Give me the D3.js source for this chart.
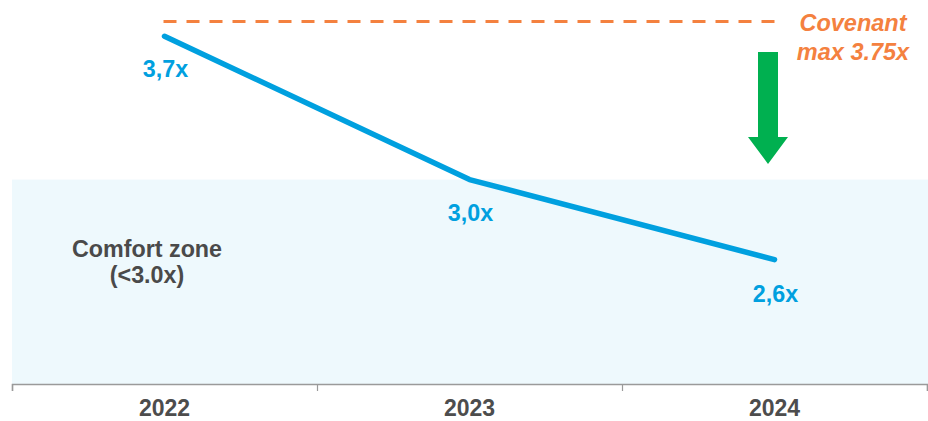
<!DOCTYPE html>
<html>
<head>
<meta charset="utf-8">
<script src="https://cdn.jsdelivr.net/npm/d3@7"></script>
<style>
  html, body { margin: 0; padding: 0; background: #fff; }
  svg { display: block; font-family: "Liberation Sans", Arial, sans-serif; }
</style>
</head>
<body>
<svg id="chart" width="928" height="421"></svg>
<script>
// ---- data ----
const years = ["2022", "2023", "2024"];
const leverage = [3.68, 3.0, 2.62];
const valueLabels = ["3,7x", "3,0x", "2,6x"];
const covenantMax = 3.75;
const comfortMax = 3.0;
const covenantLabel = ["Covenant", "max 3.75x"];
const comfortLabel = ["Comfort zone", "(<3.0x)"];
const arrowRange = [3.605, 3.074];

// ---- layout ----
const svg = d3.select("#chart");
const left = 12, right = 927, axisY = 384;

const x = d3.scaleBand().domain(years).range([left, right]).padding(0);
const y = d3.scaleLinear().domain([2.03, covenantMax]).range([axisY, 21.5]);
const cx = d => x(d) + x.bandwidth() / 2;

// comfort zone band
svg.append("rect")
  .attr("x", left).attr("width", 928 - left)
  .attr("y", y(comfortMax)).attr("height", axisY - y(comfortMax))
  .attr("fill", "#EEF9FD");

// comfort zone text
svg.append("text")
  .attr("text-anchor", "middle")
  .attr("font-size", 23.3).attr("font-weight", "bold").attr("fill", "#4a4a4a")
  .selectAll("tspan").data(comfortLabel).join("tspan")
  .attr("x", 147).attr("y", (d, i) => 257 + i * 26).text(d => d);

// axis
const tickScale = d3.scaleLinear().domain([0, years.length]).range([left, right]);
const axis = svg.append("g").attr("transform", `translate(0,${axisY})`)
  .call(d3.axisBottom(tickScale).ticks(years.length).tickSize(7).tickSizeOuter(7).tickFormat(""));
axis.select(".domain").attr("stroke", "#9a9a9a").attr("stroke-width", 1.5);
axis.selectAll(".tick line").attr("stroke", "#9a9a9a").attr("stroke-width", 1.2);

svg.append("g").selectAll("text").data(years).join("text")
  .attr("x", d => cx(d)).attr("y", 415.5).attr("text-anchor", "middle")
  .attr("font-size", 23).attr("font-weight", "bold").attr("fill", "#4d4d4d")
  .text(d => d);

// covenant dashed line
svg.append("line")
  .attr("x1", cx(years[0]) - 1).attr("x2", cx(years[2]) + 3)
  .attr("y1", y(covenantMax)).attr("y2", y(covenantMax))
  .attr("stroke", "#F4813F").attr("stroke-width", 3)
  .attr("stroke-dasharray", "13,10");

svg.append("text")
  .attr("text-anchor", "middle")
  .attr("font-size", 23.5).attr("font-weight", "bold").attr("font-style", "italic").attr("fill", "#F4813F")
  .selectAll("tspan").data(covenantLabel).join("tspan")
  .attr("x", 853).attr("y", (d, i) => 31 + i * 28.5).text(d => d);

// leverage line
const pts = years.map((d, i) => [cx(d), y(leverage[i])]);
svg.append("path")
  .attr("d", d3.line()(pts))
  .attr("fill", "none").attr("stroke", "#00A0DF").attr("stroke-width", 5.5)
  .attr("stroke-linecap", "round").attr("stroke-linejoin", "round");

// value labels
const labelOffsets = [41, 41, 42];
svg.append("g").selectAll("text").data(years).join("text")
  .attr("x", d => cx(d) + 1).attr("y", (d, i) => y(leverage[i]) + labelOffsets[i])
  .attr("text-anchor", "middle")
  .attr("font-size", 23.3).attr("font-weight", "bold").attr("fill", "#00A0DF")
  .text((d, i) => valueLabels[i]);

// green down arrow
const ax = cx(years[2]) - 6.5;
const aTop = y(arrowRange[0]), aTip = y(arrowRange[1]);
const headH = 27, shaftW = 10, headW = 20;
const p = d3.path();
p.moveTo(ax - shaftW, aTop);
p.lineTo(ax + shaftW, aTop);
p.lineTo(ax + shaftW, aTip - headH);
p.lineTo(ax + headW, aTip - headH);
p.lineTo(ax, aTip);
p.lineTo(ax - headW, aTip - headH);
p.lineTo(ax - shaftW, aTip - headH);
p.closePath();
svg.append("path").attr("d", p.toString()).attr("fill", "#00B050");
</script>
</body>
</html>
